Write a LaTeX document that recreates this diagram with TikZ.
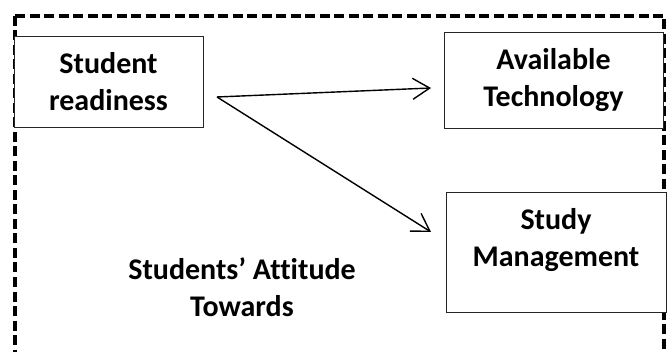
\documentclass[tikz,border=0pt]{standalone}
\usepackage{fontspec}
\setmainfont{Carlito}[Ligatures=NoCommon]
\usetikzlibrary{arrows.meta}
\begin{document}
\begin{tikzpicture}[x=1pt,y=-1pt,
  boxed/.style={draw=black!85,line width=0.9pt,fill=white,inner sep=0pt},
  lbl/.style={font=\fontsize{30}{37}\selectfont\bfseries,align=center,inner sep=0pt},
  conn/.style={line width=1.4pt,-{Straight Barb[length=17pt,width=21pt,line width=1.4pt]}}]
\useasboundingbox (0,0) rectangle (671,352);
\draw[line width=3.5pt,dash pattern=on 10pt off 4.5pt] (15,16) -- (664,16) -- (664,370) (15,16) -- (15,370);
\node[boxed,minimum width=189pt,minimum height=91pt] (sr) at (108.5,81.5) {};
\node[lbl] at (sr.center) {Student\\readiness};
\node[boxed,minimum width=219pt,minimum height=96pt] (at) at (553.5,80) {};
\node[lbl] at (at.center) {Available\\Technology};
\node[boxed,minimum width=220pt,minimum height=120pt] (sm) at (556,252) {};
\node[lbl] at (556,240) {Study\\Management};
\node[lbl] (sa) at (242,287) {Students’ Attitude\\Towards};
\coordinate (s) at (217,97);
\coordinate (t1) at (431,88);
\coordinate (t2) at (431,232);
\draw[conn] (s) -- (t1);
\draw[conn] (s) -- (t2);
\end{tikzpicture}
\end{document}
